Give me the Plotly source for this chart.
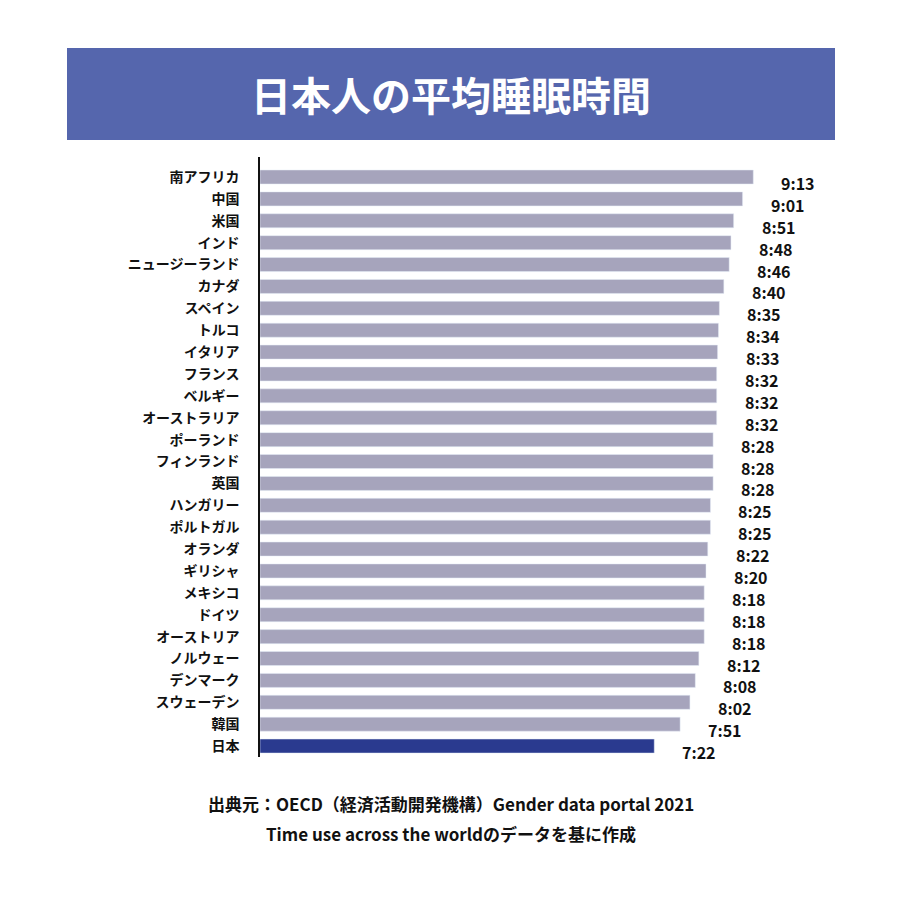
import plotly.graph_objects as go

countries = ["南アフリカ","中国","米国","インド","ニュージーランド","カナダ","スペイン","トルコ","イタリア","フランス","ベルギー","オーストラリア","ポーランド","フィンランド","英国","ハンガリー","ポルトガル","オランダ","ギリシャ","メキシコ","ドイツ","オーストリア","ノルウェー","デンマーク","スウェーデン","韓国","日本"]
labels = ["9:13","9:01","8:51","8:48","8:46","8:40","8:35","8:34","8:33","8:32","8:32","8:32","8:28","8:28","8:28","8:25","8:25","8:22","8:20","8:18","8:18","8:18","8:12","8:08","8:02","7:51","7:22"]
minutes = [int(s.split(":")[0])*60+int(s.split(":")[1]) for s in labels]

colors = ["#2a3a8f" if c == "日本" else "#a6a4bc" for c in countries]
font = "Noto Sans CJK JP"
OFF = 8

fig = go.Figure(go.Bar(y=countries, x=minutes, orientation="h", marker_color=colors,
                       width=0.64, hoverinfo="skip"))
W, L, T, H = 900, 260 - OFF, 157 - OFF, 600
pw = 580
def px(x): return (x - OFF - L) / pw
def py(y): return (T + H - (y - OFF)) / H

for c, m, s in zip(countries, minutes, labels):
    fig.add_annotation(x=m, y=c, text=s, showarrow=False, xanchor="left", xshift=26, yshift=-6,
                       font=dict(size=16, color="#111", family=font, weight="bold"))

fig.add_shape(type="rect", xref="paper", yref="paper", x0=px(67), x1=px(835), y0=py(140), y1=py(48),
              fillcolor="#5566ad", line_width=0)
fig.add_annotation(xref="paper", yref="paper", x=px(451), y=py(94), xanchor="center", yanchor="middle",
                   text="<b>日本人の平均睡眠時間</b>", showarrow=False,
                   font=dict(size=40, color="white", family=font))
fig.add_annotation(xref="paper", yref="paper", x=px(451), y=py(803), xanchor="center", yanchor="middle",
                   text="出典元：OECD（経済活動開発機構）Gender data portal 2021", showarrow=False,
                   font=dict(size=17, color="#111", family=font, weight="bold"))
fig.add_annotation(xref="paper", yref="paper", x=px(451), y=py(833), xanchor="center", yanchor="middle",
                   text="Time use across the worldのデータを基に作成", showarrow=False,
                   font=dict(size=17, color="#111", family=font, weight="bold"))

fig.update_layout(width=W, height=900, margin=dict(l=L, r=W - L - pw, t=T, b=900 - T - H),
                  plot_bgcolor="white", paper_bgcolor="white", showlegend=False, bargap=0.3)
fig.update_xaxes(range=[0, pw / 0.892], visible=False)
fig.update_yaxes(autorange="reversed", showline=True, linecolor="#111", linewidth=1.5, ticks="",
                 tickfont=dict(size=14, color="#111", family=font, weight="bold"), ticklabelstandoff=16)
fig.write_html("out.html")
